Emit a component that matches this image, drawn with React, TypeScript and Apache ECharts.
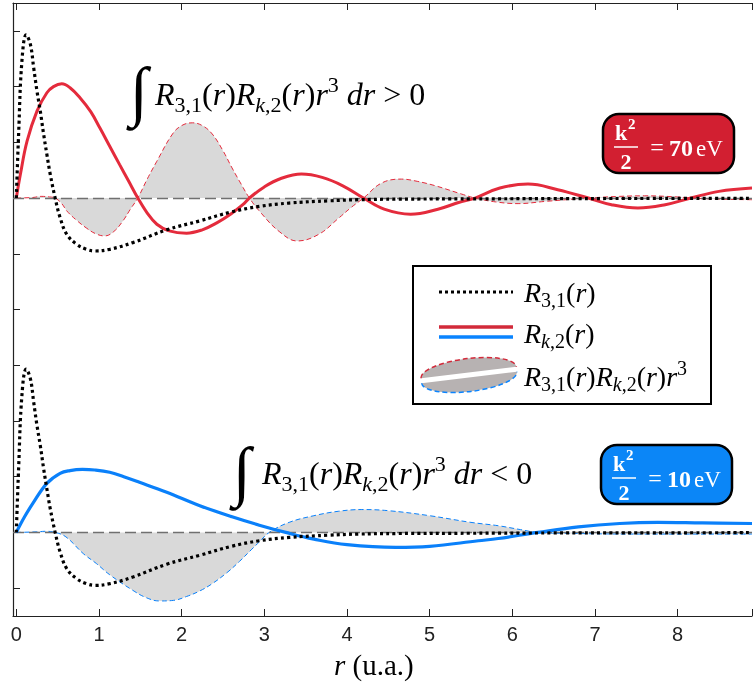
import React, { useEffect, useRef } from "react";
import * as echarts from "echarts";

// ---------- data (values in tick units) ----------
const xTickLabels = ["0", "1", "2", "3", "4", "5", "6", "7", "8"];

// R_{3,1}(r) (black dotted, same in both panels)
const r31R = [0, 0.028, 0.068, 0.12, 0.17, 0.21, 0.25, 0.29, 0.33, 0.37, 0.41, 0.47, 0.53, 0.61, 0.73, 0.85, 0.95, 1.13, 1.41, 1.82, 2.22, 2.6, 2.94, 3.3, 3.78, 4.14, 4.6, 5.5, 6.5, 7.5, 8.9];
const r31V = [0, 1.15, 2.46, 2.93, 2.76, 2.34, 1.92, 1.56, 1.15, 0.78, 0.43, 0, -0.35, -0.65, -0.83, -0.92, -0.95, -0.92, -0.8, -0.57, -0.41, -0.25, -0.15, -0.09, -0.05, -0.03, -0.02, -0.015, -0.01, -0.008, -0.005];

// R_{k,2}(r), k^2/2 = 70 eV (red)
const rk70R = [0, 0.05, 0.13, 0.25, 0.37, 0.45, 0.55, 0.65, 0.77, 0.9, 1.01, 1.13, 1.25, 1.36, 1.47, 1.58, 1.7, 1.85, 2.06, 2.25, 2.42, 2.6, 2.74, 2.82, 3.0, 3.2, 3.45, 3.7, 3.95, 4.2, 4.45, 4.77, 5.1, 5.35, 5.55, 5.85, 6.19, 6.55, 6.92, 7.2, 7.52, 7.85, 8.16, 8.5, 8.9];
const rk70V = [0, 0.43, 1.02, 1.56, 1.89, 2.0, 2.05, 1.98, 1.8, 1.55, 1.26, 0.93, 0.6, 0.3, 0, -0.26, -0.47, -0.59, -0.63, -0.57, -0.45, -0.28, -0.12, 0, 0.2, 0.35, 0.43, 0.37, 0.22, 0, -0.2, -0.29, -0.2, -0.08, 0, 0.18, 0.25, 0.15, 0, -0.12, -0.18, -0.12, 0, 0.12, 0.18];

// R_{3,1} R_{k,2} r^3, 70 eV (grey fill, red dashed)
const prod70R = [0, 0.2, 0.3, 0.4, 0.47, 0.55, 0.61, 0.73, 0.85, 0.96, 1.07, 1.18, 1.29, 1.38, 1.47, 1.58, 1.7, 1.89, 2.0, 2.13, 2.25, 2.37, 2.5, 2.61, 2.72, 2.82, 2.95, 3.18, 3.4, 3.66, 3.9, 4.05, 4.2, 4.42, 4.66, 4.85, 5.07, 5.39, 5.55, 5.8, 6.07, 6.4, 6.92, 7.3, 7.6, 8.0, 8.16, 8.5, 8.9];
const prod70V = [0, 0.01, 0.03, 0.02, 0, -0.1, -0.23, -0.4, -0.54, -0.64, -0.68, -0.6, -0.41, -0.2, 0, 0.33, 0.66, 1.15, 1.3, 1.35, 1.3, 1.15, 0.85, 0.54, 0.25, 0, -0.25, -0.6, -0.77, -0.65, -0.36, -0.17, 0, 0.27, 0.34, 0.3, 0.22, 0.07, 0, -0.07, -0.1, -0.06, 0, 0.03, 0.04, 0.02, 0, -0.02, -0.03];

// R_{k,2}(r), k^2/2 = 10 eV (blue)
const rk10R = [0, 0.1, 0.2, 0.37, 0.53, 0.65, 0.8, 0.95, 1.13, 1.3, 1.49, 1.82, 2.22, 2.61, 2.94, 3.26, 3.6, 4.0, 4.59, 5.0, 5.59, 5.83, 6.31, 6.8, 7.3, 7.76, 8.3, 8.9];
const rk10V = [0, 0.28, 0.52, 0.88, 1.06, 1.11, 1.13, 1.12, 1.08, 1.0, 0.9, 0.72, 0.48, 0.28, 0.13, 0, -0.12, -0.22, -0.27, -0.25, -0.15, -0.11, 0, 0.1, 0.16, 0.18, 0.17, 0.16];

// R_{3,1} R_{k,2} r^3, 10 eV (grey fill, blue dashed)
const prod10R = [0, 0.25, 0.35, 0.47, 0.6, 0.81, 0.97, 1.13, 1.41, 1.57, 1.73, 1.9, 2.06, 2.22, 2.37, 2.55, 2.7, 2.85, 2.94, 3.06, 3.3, 3.6, 3.9, 4.18, 4.5, 5.0, 5.5, 5.83, 6.1, 6.31, 6.8, 7.5, 8.9];
const prod10V = [0, 0.01, 0.02, 0, -0.08, -0.38, -0.56, -0.76, -1.04, -1.17, -1.23, -1.22, -1.15, -1.05, -0.92, -0.72, -0.52, -0.3, -0.17, 0, 0.18, 0.3, 0.38, 0.41, 0.39, 0.3, 0.18, 0.12, 0.05, 0, -0.02, -0.03, -0.03];

const TOP_BASE = 6;
const BOTTOM_BASE = 0;

const RED = "#e42b3c";
const BLUE = "#0a80fa";
const RED_BOX = "#d21f31";
const BLUE_BOX = "#0b86f7";
const SERIF = "Liberation Serif";

// ---------- legend ellipse shapes ----------
echarts.graphic.registerShape("ellTopFill", echarts.graphic.extendPath("M-48,0 A48,14 0 0 1 48,0 Z", {}));
echarts.graphic.registerShape("ellTopArc", echarts.graphic.extendPath("M-48,0 A48,14 0 0 1 48,0", {}));
echarts.graphic.registerShape("ellBotFill", echarts.graphic.extendPath("M-48,0 A48,14 0 0 0 48,0 Z", {}));
echarts.graphic.registerShape("ellBotArc", echarts.graphic.extendPath("M-48,0 A48,14 0 0 0 48,0", {}));

const zip = (rs: number[], vs: number[], off: number) => rs.map((r, i) => [r, vs[i] + off]);

function mathRich(S: number, fill = "#000", weight = "normal") {
  const L = Math.round(S * 1.3);
  const s = Math.round(S * 0.7);
  const base = { fontFamily: SERIF, fill, fontWeight: weight };
  return {
    n: { ...base, fontSize: S, lineHeight: L },
    i: { ...base, fontSize: S, lineHeight: L, fontStyle: "italic" },
    s: { ...base, fontSize: s, lineHeight: L - 0.45 * S, verticalAlign: "bottom" },
    si: { ...base, fontSize: s, lineHeight: L - 0.45 * S, verticalAlign: "bottom", fontStyle: "italic" },
    p: { ...base, fontSize: s, lineHeight: L - 0.62 * S, verticalAlign: "top" },
  };
}

const R31 = "{i|R}{s|3,1}{n|(}{i|r}{n|)}";
const RK2 = "{i|R}{si|k}{s|,2}{n|(}{i|r}{n|)}";

function mathText(text: string, x: number, y: number, S: number) {
  return {
    type: "text",
    z: 100,
    style: {
      text,
      x,
      y,
      rich: mathRich(S),
      align: "left",
      textAlign: "left",
      verticalAlign: "middle",
      textVerticalAlign: "middle",
    },
  };
}

function plainText(text: string, x: number, y: number, size: number, opts: any = {}) {
  return {
    type: "text",
    z: 100,
    style: {
      text,
      x,
      y,
      fontSize: size,
      fontFamily: opts.family || SERIF,
      fill: opts.fill || "#000",
      fontWeight: opts.weight || "normal",
      fontStyle: opts.style || "normal",
      align: opts.align || "left",
      textAlign: opts.align || "left",
      verticalAlign: "middle",
      textVerticalAlign: "middle",
    },
  };
}

function energyBox(x0: number, y0: number, fill: string, value: string) {
  return {
    type: "group",
    x: x0,
    y: y0,
    z: 100,
    children: [
      { type: "rect", z: 100, shape: { x: 0, y: 0, width: 131, height: 59, r: 16 }, style: { fill, stroke: "#000", lineWidth: 2.5 } },
      plainText("k", 12, 18, 22, { fill: "#fff", weight: "bold" }),
      plainText("2", 25, 10, 15, { fill: "#fff", weight: "bold" }),
      { type: "line", z: 101, shape: { x1: 11, y1: 33, x2: 35, y2: 33 }, style: { stroke: "#fff", lineWidth: 1.5 } },
      plainText("2", 23, 47, 22, { fill: "#fff", weight: "bold", align: "center" }),
      plainText("=", 54, 33, 24, { fill: "#fff", align: "center" }),
      plainText(value, 66, 34, 24, { fill: "#fff", weight: "bold" }),
      plainText("eV", 93, 34, 23, { fill: "#fff" }),
    ],
  };
}

function area(rs: number[], vs: number[], off: number, color: string) {
  return {
    type: "line",
    data: zip(rs, vs, off),
    smooth: 0.4,
    symbol: "none",
    silent: true,
    z: 1,
    lineStyle: { color, width: 1, type: [5, 3] },
    areaStyle: { color: "#d9d9d9", opacity: 1, origin: off },
    markLine: {
      silent: true,
      symbol: "none",
      label: { show: false },
      z: 2,
      lineStyle: { color: "#707070", width: 1.3, type: [11, 5] },
      data: [{ yAxis: off }],
    },
  };
}

function curve(rs: number[], vs: number[], off: number, color: string, width: number, dash: any, z: number) {
  return {
    type: "line",
    data: zip(rs, vs, off),
    smooth: 0.4,
    symbol: "none",
    silent: true,
    z,
    lineStyle: { color, width, type: dash, cap: "butt" },
  };
}

export default function App() {
  const ref = useRef<HTMLDivElement>(null);
  useEffect(() => {
    if (!ref.current) return;
    const chart = echarts.init(ref.current, null, { renderer: "svg" });
    const axisCommon = {
      type: "value",
      min: -0.04,
      max: 8.9,
      splitNumber: 9,
      minInterval: 1,
      maxInterval: 1,
      splitLine: { show: false },
      axisLine: { show: true, onZero: false, lineStyle: { color: "#222", width: 1.2 } },
      axisTick: { show: true, inside: true, length: 7, lineStyle: { color: "#222", width: 1 } },
    };
    const option: any = {
      animation: false,
      grid: { left: 13, right: 0, top: 3, bottom: 70, containLabel: false },
      xAxis: [
        {
          ...axisCommon,
          position: "bottom",
          axisLabel: {
            show: true,
            fontSize: 20,
            fontFamily: "Liberation Sans",
            color: "#222",
            margin: 8,
            formatter: (v: number) => {
              const idx = xTickLabels.indexOf(String(Math.round(v)));
              return Math.abs(v - Math.round(v)) < 1e-6 && idx >= 0 ? xTickLabels[idx] : "";
            },
          },
        },
        {
          ...axisCommon,
          position: "top",
          axisLabel: { show: false },
        },
      ],
      yAxis: {
        type: "value",
        min: -1.5,
        max: 9.5,
        splitNumber: 11,
        minInterval: 1,
        maxInterval: 1,
        splitLine: { show: false },
        axisLine: { show: true, onZero: false, lineStyle: { color: "#222", width: 1.2 } },
        axisTick: { show: true, inside: true, length: 7, lineStyle: { color: "#222", width: 1 } },
        axisLabel: { show: false },
      },
      series: [
        area(prod70R, prod70V, TOP_BASE, RED),
        area(prod10R, prod10V, BOTTOM_BASE, BLUE),
        curve(rk70R, rk70V, TOP_BASE, RED, 3, "solid", 6),
        curve(rk10R, rk10V, BOTTOM_BASE, BLUE, 3.2, "solid", 6),
        curve(r31R, r31V, TOP_BASE, "#000", 3.2, [3, 3.2], 7),
        curve(r31R, r31V, BOTTOM_BASE, "#000", 3.2, [3, 3.2], 7),
      ],
      graphic: [
        // integrals
        plainText("∫", 139, 90, 66, { align: "center", style: "italic" }),
        mathText(R31 + RK2 + "{i|r}{p|3}{n| }{i|dr}{n| > 0}", 155, 94, 32),
        plainText("∫", 242, 470, 66, { align: "center", style: "italic" }),
        mathText(R31 + RK2 + "{i|r}{p|3}{n| }{i|dr}{n| < 0}", 262, 473, 32),
        // energy boxes
        energyBox(603, 114, RED_BOX, "70"),
        energyBox(601, 445, BLUE_BOX, "10"),
        // legend
        {
          type: "rect",
          z: 90,
          shape: { x: 413, y: 266, width: 298, height: 138 },
          style: { fill: "#fff", stroke: "#000", lineWidth: 2 },
        },
        { type: "line", z: 100, shape: { x1: 439, y1: 292, x2: 513, y2: 292 }, style: { stroke: "#000", lineWidth: 3, lineDash: [3, 3] } },
        { type: "line", z: 100, shape: { x1: 439, y1: 327, x2: 513, y2: 327 }, style: { stroke: "#d22a3a", lineWidth: 3.5 } },
        { type: "line", z: 100, shape: { x1: 439, y1: 337, x2: 513, y2: 337 }, style: { stroke: "#0a84ff", lineWidth: 3.5 } },
        {
          type: "group",
          x: 469,
          y: 375,
          rotation: 0.12,
          z: 100,
          children: [
            { type: "ellTopFill", z: 100, y: -2.5, style: { fill: "#b7b2b2", stroke: null } },
            { type: "ellTopArc", z: 101, y: -2.5, style: { fill: null, stroke: "#d22a3a", lineWidth: 1.5, lineDash: [5, 3] } },
            { type: "ellBotFill", z: 100, y: 2.5, style: { fill: "#b7b2b2", stroke: null } },
            { type: "ellBotArc", z: 101, y: 2.5, style: { fill: null, stroke: "#0a84ff", lineWidth: 1.5, lineDash: [5, 3] } },
          ],
        },
        mathText(R31, 524, 292, 28),
        mathText(RK2, 524, 333, 28),
        mathText(R31 + RK2 + "{i|r}{p|3}", 524, 376, 28),
        // x axis title
        mathText("{i|r}{n| (u.a.)}", 334, 665, 29),
      ],
    };
    chart.setOption(option);
    return () => chart.dispose();
  }, []);
  return <div ref={ref} style={{ position: "fixed", left: 0, top: 0, width: 755, height: 686 }} />;
}
